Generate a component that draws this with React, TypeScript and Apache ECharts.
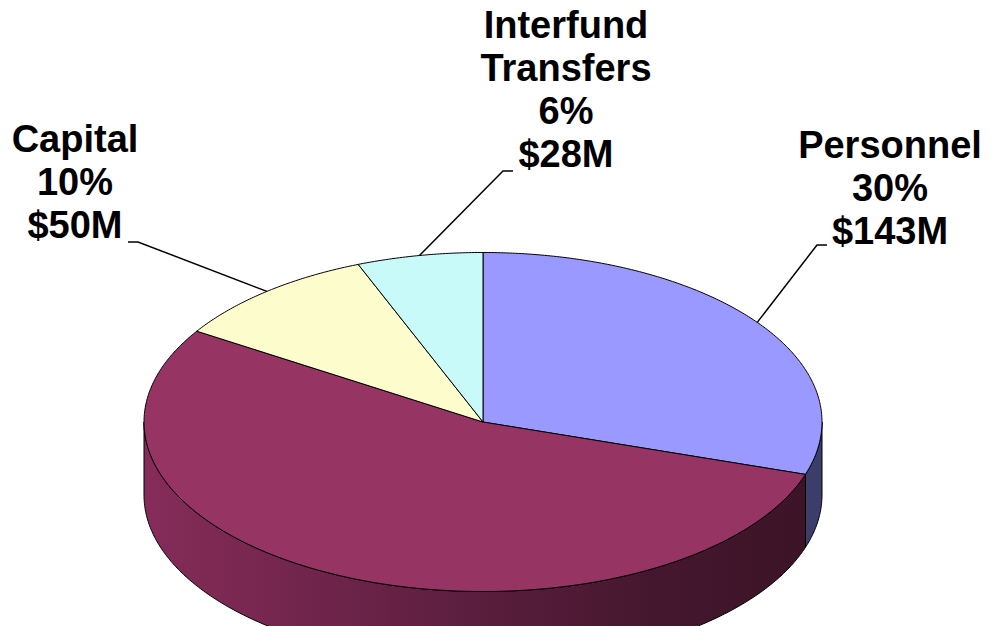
import React, { useEffect, useRef } from "react";
import * as echarts from "echarts";

// ---- Data ----
const categories = ["Personnel", "Operating", "Capital", "Interfund\nTransfers"];
const amountsM = [143, 256, 50, 28];
const percents = [30, 54, 10, 6];
const labelVisible = [true, false, true, true];

// ---- Styles / layout ----
const topColors = ["#9999FF", "#963464", "#FCFCCC", "#C9FAFA"];
const CX = 483;
const CY = 422;
const RX = 339;
const RY = 169.5;
const DEPTH = 73;
const FONT = '"Liberation Sans", Arial, Helvetica, sans-serif';

const labelLayout: Array<null | { x: number; y: number; elbow: number[]; end: number[] }> = [
  { x: 890, y: 123.5, elbow: [817, 245], end: [827, 245] },
  null,
  { x: 75, y: 117.5, elbow: [138, 242], end: [128, 242] },
  { x: 566, y: 3.5, elbow: [503, 171], end: [513, 171] },
];

export default function App() {
  const ref = useRef<HTMLDivElement>(null);

  useEffect(() => {
    document.body.style.margin = "0";
    if (!ref.current) return;
    const chart = echarts.init(ref.current, undefined, { renderer: "svg" });

    const total = percents.reduce((a, b) => a + b, 0);
    const starts: number[] = [];
    let acc = 0;
    percents.forEach((p) => {
      starts.push(acc);
      acc += p;
    });

    const sideFills: any[] = [
      "#3D3D6B",
      new echarts.graphic.LinearGradient(
        CX - RX,
        0,
        CX + RX,
        0,
        [
          { offset: 0, color: "#862C5A" },
          { offset: 0.45, color: "#5E1F40" },
          { offset: 0.75, color: "#45172E" },
          { offset: 1, color: "#3B1326" },
        ],
        true
      ),
      "#B5B58F",
      "#8FB2B2",
    ];

    const pt = (deg: number, dy = 0) => {
      const r = (deg * Math.PI) / 180;
      return [CX + RX * Math.sin(r), CY - RY * Math.cos(r) + dy];
    };
    const arc = (from: number, to: number, dy: number) => {
      const n = Math.max(2, Math.ceil((to - from) / 0.5));
      const pts: number[][] = [];
      for (let k = 0; k <= n; k++) pts.push(pt(from + ((to - from) * k) / n, dy));
      return pts;
    };

    chart.setOption({
      animation: false,
      backgroundColor: "#ffffff",
      series: [
        {
          type: "custom",
          coordinateSystem: "none",
          silent: true,
          data: percents.map((p, i) => ({ name: categories[i], value: [p, amountsM[i]] })),
          renderItem: (params: any, api: any) => {
            const i = params.dataIndex;
            const pct = api.value(0);
            const amt = api.value(1);
            const a0 = (starts[i] / total) * 360;
            const a1 = ((starts[i] + pct) / total) * 360;
            const children: any[] = [];

            const s0 = Math.max(a0, 90);
            const s1 = Math.min(a1, 270);
            if (s1 > s0) {
              const top = arc(s0, s1, 0);
              const bot = arc(s0, s1, DEPTH).reverse();
              children.push({
                type: "polygon",
                shape: { points: top.concat(bot) },
                style: { fill: sideFills[i], stroke: "#000", lineWidth: 1 },
              });
            }
            children.push({
              type: "polygon",
              shape: { points: [[CX, CY]].concat(arc(a0, a1, 0)) },
              style: { fill: topColors[i], stroke: "#000", lineWidth: 1 },
            });

            const lay = labelLayout[i];
            if (labelVisible[i] && lay) {
              const mid = pt((a0 + a1) / 2, 0);
              children.push({
                type: "polyline",
                shape: { points: [mid, lay.elbow, lay.end] },
                style: { stroke: "#000", lineWidth: 1.5, fill: null },
              });
              children.push({
                type: "text",
                x: lay.x,
                y: lay.y,
                style: {
                  text: `${categories[i]}\n${pct}%\n$${amt}M`,
                  fontSize: 38,
                  fontWeight: "bold",
                  fontFamily: FONT,
                  fill: "#000",
                  align: "center",
                  verticalAlign: "top",
                  lineHeight: 43,
                },
              });
            }
            return { type: "group", children };
          },
        },
      ],
    });

    return () => chart.dispose();
  }, []);

  return <div ref={ref} style={{ width: 991, height: 626, overflow: "hidden" }} />;
}
